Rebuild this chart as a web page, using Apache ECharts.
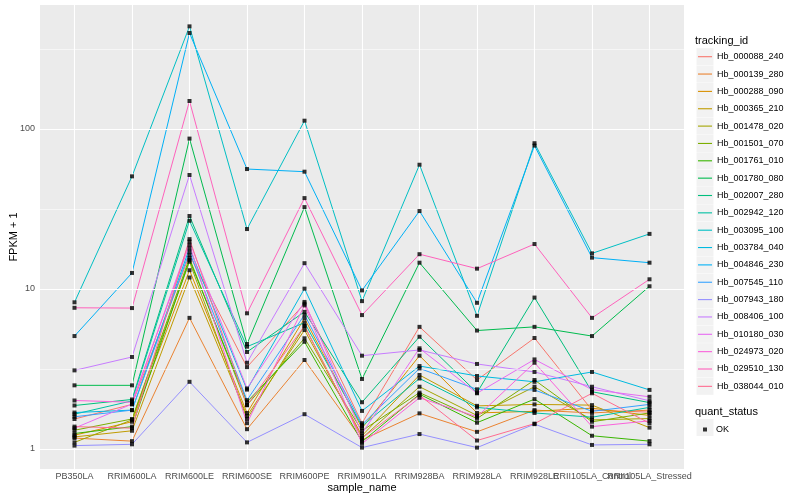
<!DOCTYPE html>
<html><head><meta charset="utf-8">
<script src="https://cdn.jsdelivr.net/npm/echarts@6/dist/echarts.min.js"></script>
<style>html,body{margin:0;padding:0;background:#fff}#c{width:800px;height:500px}</style>
</head><body><div id="c"></div>
<script>
const categories = ['PB350LA','RRIM600LA','RRIM600LE','RRIM600SE','RRIM600PE','RRIM901LA','RRIM928BA','RRIM928LA','RRIM928LE','RRII105LA_Control','RRII105LA_Stressed'];
const yTickValues = [1, 10, 100];
const yTickLabels = ['1', '10', '100'];
const yMinorValues = [Math.sqrt(10), Math.sqrt(1000), Math.sqrt(100000)];

const Hb_000088_240 = [1.54, 1.90, 16.3, 3.25, 8.1, 1.45, 5.8, 2.7, 4.94, 1.75, 1.70];
const Hb_000139_280 = [1.17, 1.12, 6.6, 1.33, 3.6, 1.14, 1.67, 1.28, 1.75, 1.68, 1.75];
const Hb_000288_090 = [1.22, 1.48, 13.1, 1.68, 6.55, 1.35, 3.83, 1.68, 1.72, 1.80, 1.62];
const Hb_000365_210 = [1.19, 1.30, 11.8, 1.61, 5.54, 1.21, 2.90, 1.86, 1.90, 1.88, 1.36];
const Hb_001478_020 = [1.10, 1.52, 14.8, 1.54, 5.87, 1.17, 2.45, 1.62, 2.45, 1.52, 1.55];
const Hb_001501_070 = [1.31, 1.54, 15.6, 1.88, 4.92, 1.30, 2.25, 1.55, 2.70, 1.48, 1.68];
const Hb_001761_010 = [1.25, 1.38, 15.2, 1.97, 4.68, 1.11, 2.20, 1.46, 2.05, 1.21, 1.12];
const Hb_001780_080 = [2.50, 2.50, 87.1, 4.53, 32.5, 2.74, 14.6, 5.5, 5.8, 5.08, 10.4];
const Hb_002007_280 = [1.87, 2.04, 28.6, 4.04, 7.2, 1.96, 5.03, 2.25, 8.84, 2.28, 1.95];
const Hb_002942_120 = [1.65, 2.00, 26.7, 4.36, 6.16, 1.39, 2.76, 1.82, 1.68, 1.58, 1.82];
const Hb_003095_100 = [8.26, 50.6, 438, 23.7, 112.7, 8.4, 59.8, 6.8, 81.5, 16.7, 22.1];
const Hb_003784_040 = [1.69, 1.75, 18.0, 2.35, 10.05, 1.73, 3.30, 2.86, 2.63, 3.03, 2.34];
const Hb_004846_230 = [5.08, 12.6, 398, 56.2, 54.1, 9.8, 30.7, 8.2, 78.7, 15.7, 14.6];
const Hb_007545_110 = [1.59, 1.75, 17.1, 2.02, 6.9, 1.42, 3.19, 2.36, 2.34, 1.72, 1.90];
const Hb_007943_180 = [1.05, 1.07, 2.63, 1.10, 1.65, 1.02, 1.24, 1.02, 1.43, 1.06, 1.07];
const Hb_008406_100 = [3.10, 3.76, 51.6, 3.46, 14.5, 3.83, 4.16, 3.40, 3.03, 2.45, 2.00];
const Hb_010180_030 = [1.35, 1.91, 19.8, 2.39, 8.3, 1.25, 4.26, 2.23, 3.63, 2.35, 2.12];
const Hb_024973_020 = [2.01, 1.96, 18.9, 1.45, 7.9, 1.08, 2.09, 1.59, 3.46, 1.38, 1.50];
const Hb_029510_130 = [7.63, 7.60, 149.6, 7.05, 37.0, 6.87, 16.5, 13.4, 19.1, 6.6, 11.5];
const Hb_038044_010 = [1.38, 1.35, 20.5, 1.88, 5.87, 1.17, 2.17, 1.13, 1.44, 2.23, 1.45];

const trackingIds = ['Hb_000088_240','Hb_000139_280','Hb_000288_090','Hb_000365_210','Hb_001478_020','Hb_001501_070','Hb_001761_010','Hb_001780_080','Hb_002007_280','Hb_002942_120','Hb_003095_100','Hb_003784_040','Hb_004846_230','Hb_007545_110','Hb_007943_180','Hb_008406_100','Hb_010180_030','Hb_024973_020','Hb_029510_130','Hb_038044_010'];
const seriesValues = [Hb_000088_240,Hb_000139_280,Hb_000288_090,Hb_000365_210,Hb_001478_020,Hb_001501_070,Hb_001761_010,Hb_001780_080,Hb_002007_280,Hb_002942_120,Hb_003095_100,Hb_003784_040,Hb_004846_230,Hb_007545_110,Hb_007943_180,Hb_008406_100,Hb_010180_030,Hb_024973_020,Hb_029510_130,Hb_038044_010];
const statusName = 'OK';

// styles
const palette = ['#F8766D','#EA8331','#D89000','#C09B00','#A3A500','#7CAE00','#39B600','#00BB4E','#00BF7D','#00C1A3','#00BFC4','#00BAE0','#00B0F6','#35A2FF','#9590FF','#C77CFF','#E76BF3','#FA62DB','#FF62BC','#FF6C91'];
const FONT = 'Liberation Sans';
const AXFONT = "'Liberation Sans Narrow', 'Liberation Sans'";
const yMinLog = -0.125, yMaxLog = 2.775;
const legendTop = 49.7, legendStep = 17.35;

const lg = v => Math.log10(v);
const idx = categories.map((c, i) => i);
const series = [];
const gridLine = (w) => ({ color: '#fff', width: w, type: 'solid' });
series.push({
  type: 'line', data: [], z: 1, silent: true,
  markLine: {
    silent: true, symbol: 'none', animation: false, label: { show: false },
    data: [
      ...yMinorValues.map(v => ({ yAxis: lg(v), lineStyle: gridLine(0.55) })),
      ...yTickValues.map(v => ({ yAxis: lg(v), lineStyle: gridLine(1.1) })),
      ...idx.map(i => ({ xAxis: i, lineStyle: gridLine(1.1) }))
    ]
  }
});
trackingIds.forEach((name, i) => series.push({
  name, type: 'line', symbol: 'none', z: 2,
  lineStyle: { width: 1, color: palette[i] }, itemStyle: { color: palette[i] },
  data: seriesValues[i].map((v, j) => [j, lg(v)])
}));
const allPoints = [];
seriesValues.forEach(arr => arr.forEach((v, j) => allPoints.push([j, lg(v)])));
series.push({ name: statusName, type: 'scatter', symbol: 'rect', symbolSize: 4, z: 5,
  itemStyle: { color: '#000' }, data: allPoints });

const graphics = [];
for (let i = 0; i < trackingIds.length; i++) {
  graphics.push({ type: 'rect', z: 0, shape: { x: 696.5, y: legendTop - 1.5 + i * legendStep, width: 17, height: 17 }, style: { fill: '#F2F2F2' } });
}
graphics.push({ type: 'rect', z: 0, shape: { x: 696.5, y: 419, width: 17, height: 17 }, style: { fill: '#F2F2F2' } });

const xAxisBase = {
  type: 'value', min: -0.6, max: 10.6, position: 'bottom', offset: 0,
  axisLine: { show: false }, splitLine: { show: false }
};
const xLabelStyle = vals => ({ customValues: vals, formatter: v => categories[Math.round(v)], fontSize: 9, color: '#4D4D4D', margin: 3, fontFamily: AXFONT, showMinLabel: true, showMaxLabel: true, hideOverlap: false });

const chart = echarts.init(document.getElementById('c'), null, { renderer: 'canvas' });
chart.setOption({
  animation: false,
  backgroundColor: '#fff',
  textStyle: { fontFamily: FONT },
  title: [
    { text: 'tracking_id', left: 695, top: 35, padding: 0, textStyle: { fontSize: 11, fontWeight: 'normal', color: '#000', fontFamily: FONT } },
    { text: 'quant_status', left: 695, top: 406, padding: 0, textStyle: { fontSize: 11, fontWeight: 'normal', color: '#000', fontFamily: FONT } }
  ],
  graphic: graphics,
  grid: { left: 40, right: 116, top: 5, bottom: 31, show: true, backgroundColor: '#EBEBEB', borderWidth: 0, containLabel: false, outerBoundsMode: 'none' },
  xAxis: [
    Object.assign({}, xAxisBase, {
      axisTick: { show: true, length: 3, lineStyle: { color: '#333' }, customValues: idx },
      axisLabel: xLabelStyle(idx.filter(i => i % 2 === 0)),
      name: 'sample_name', nameLocation: 'middle', nameGap: 13, nameMoveOverlap: false,
      nameTextStyle: { fontSize: 11, color: '#000', fontFamily: FONT }
    }),
    Object.assign({}, xAxisBase, {
      axisTick: { show: false, customValues: idx },
      axisLabel: xLabelStyle(idx.filter(i => i % 2 === 1))
    })
  ],
  yAxis: {
    type: 'value', min: yMinLog, max: yMaxLog,
    axisLine: { show: false },
    axisTick: { show: true, length: 3, lineStyle: { color: '#333' }, customValues: yTickValues.map(lg) },
    axisLabel: { customValues: yTickValues.map(lg), formatter: v => yTickLabels[yTickValues.map(lg).findIndex(t => Math.abs(t - v) < 1e-6)], fontSize: 9, color: '#4D4D4D', margin: 5, fontFamily: FONT },
    splitLine: { show: false },
    name: 'FPKM + 1', nameLocation: 'middle', nameGap: 21, nameRotate: 90, nameMoveOverlap: false,
    nameTextStyle: { fontSize: 11, color: '#000', fontFamily: FONT }
  },
  legend: [{
    data: trackingIds, orient: 'vertical', left: 698, top: legendTop, z: 5, padding: 0,
    icon: 'path://M0,0h14v1.1h-14z', itemWidth: 14, itemHeight: 14, itemGap: legendStep - 14,
    textStyle: { fontSize: 9, color: '#000', fontFamily: FONT, lineHeight: 14 }
  }, {
    data: [statusName], orient: 'vertical', left: 703, top: 425, z: 5, padding: 0,
    icon: 'rect', itemWidth: 4, itemHeight: 4,
    textStyle: { fontSize: 9, color: '#000', fontFamily: FONT, padding: [0, 0, 0, 4] }
  }],
  series
});
</script></body></html>
